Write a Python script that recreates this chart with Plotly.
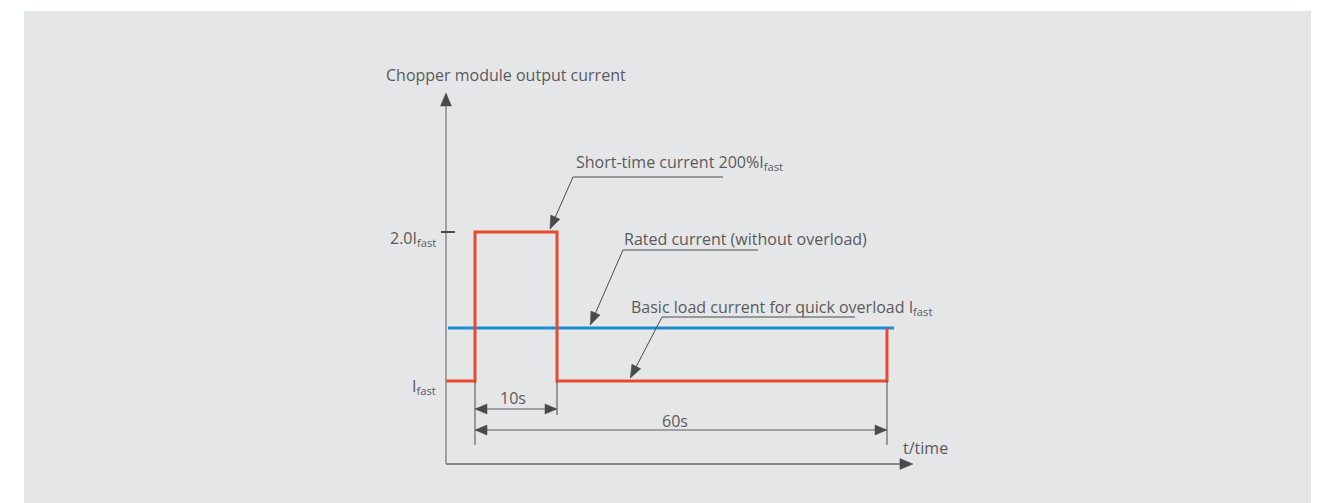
import math
import plotly.graph_objects as go

# ---------------- data (schematic: x in units of the 10 s pulse width, y in units of I_fast) ----
red_t = [-0.354, 0.0, 0.0, 1.0, 1.0, 5.024, 5.024]
red_i = [1.0, 1.0, 2.0, 2.0, 1.0, 1.0, 1.356]
blue_t = [-0.33, 5.11]
blue_i = [1.356, 1.356]
y_tick_vals = [1.0, 2.0]
y_tick_labels = ["I<sub>fast</sub>", "2.0I<sub>fast</sub>"]
dim_labels = ["10s", "60s"]
dim_start = [0.0, 0.0]
dim_end = [1.0, 5.024]
dim_level = [0.812, 0.671]
ext_bottom = [0.570, 0.772, 0.570]
ext_t = [0.0, 1.0, 5.024]
axis_origin = (-0.354, 0.443)
axis_tip = (5.341, 2.933)
y_title = "Chopper module output current"
x_title = "t/time"
callouts = [
    "Short-time current 200%I<sub>fast</sub>",
    "Rated current (without overload)",
    "Basic load current for quick overload I<sub>fast</sub>",
]
callout_targets_t = [0.915, 1.406, 1.894]
callout_targets_i = [2.0, 1.356, 1.0]

# ---------------- layout helpers ----------------
W, H = 1326, 503
X0_PX, XS = 475, 82.0     # pixel of t=0, pixels per unit
Y0_PX, YS = 530, 149.0    # pixel of i=0, pixels per unit
def px2x(px): return (px - X0_PX) / XS
def py2y(py): return (Y0_PX - py) / YS
def x2px(x): return X0_PX + x * XS
def y2py(y): return Y0_PX - y * YS

RED = "#e8492c"
BLUE = "#1a8bd4"
DARK = "#4a4a4a"
TXT = "#5a5a5a"
FONT = "Open Sans"
FS = 16

fig = go.Figure()

# grey panel
fig.add_shape(type="rect", xref="paper", yref="paper", x0=24 / W, x1=1311 / W, y0=0, y1=1 - 11 / H,
              fillcolor="#e5e6e8", line_width=0, layer="below")

def line(x0, y0, x1, y1, color, width):
    fig.add_shape(type="line", x0=x0, y0=y0, x1=x1, y1=y1, line=dict(color=color, width=width))

def head(tip_px, from_px, length=12, half=5, color=DARK):
    """filled triangular arrow head, pixel geometry converted to data coords"""
    tx, ty = tip_px
    fx, fy = from_px
    d = math.hypot(tx - fx, ty - fy)
    ux, uy = (tx - fx) / d, (ty - fy) / d
    bx, by = tx - ux * length, ty - uy * length
    px_, py_ = -uy, ux
    pts = [(tx, ty), (bx + px_ * half, by + py_ * half), (bx - px_ * half, by - py_ * half)]
    path = "M " + " L ".join(f"{px2x(a):.5f},{py2y(b):.5f}" for a, b in pts) + " Z"
    fig.add_shape(type="path", path=path, fillcolor=color, line=dict(color=color, width=0.5))

# axes
ox, oy = axis_origin
line(ox, oy, axis_tip[0] - 0.05, oy, "#666666", 1.5)
line(ox, oy, ox, axis_tip[1] - 0.03, "#888888", 1.5)
head((x2px(axis_tip[0]), y2py(oy)), (x2px(ox), y2py(oy)), length=13, half=5.5)
head((x2px(ox), y2py(axis_tip[1])), (x2px(ox), y2py(oy)), length=13, half=5.5)

# y tick mark at 2.0 I_fast
line(px2x(441), 2.0, px2x(455), 2.0, DARK, 2)

# extension lines
for t, yb in zip(ext_t, ext_bottom):
    line(t, 1.0, t, yb, DARK, 1)

# dimension lines with heads
for s, e, lv in zip(dim_start, dim_end, dim_level):
    line(s, lv, e, lv, "#888888", 1.5)
    head((x2px(s), y2py(lv)), (x2px(e), y2py(lv)), length=12, half=5)
    head((x2px(e), y2py(lv)), (x2px(s), y2py(lv)), length=12, half=5)

# data traces
fig.add_trace(go.Scatter(x=blue_t, y=blue_i, mode="lines", line=dict(color=BLUE, width=3), hoverinfo="skip"))
fig.add_trace(go.Scatter(x=red_t, y=red_i, mode="lines", line=dict(color=RED, width=3), hoverinfo="skip"))

# callouts: underline + leader + head
underlines = [(573, 723, 177), (623, 758, 250), (662, 855, 317)]
for (u0, u1, uy), tt, ti in zip(underlines, callout_targets_t, callout_targets_i):
    line(px2x(u0), py2y(uy), px2x(u1), py2y(uy), DARK, 1)
    tip = (x2px(tt), y2py(ti) - 3)
    line(px2x(u0), py2y(uy), px2x(tip[0]), py2y(tip[1]), DARK, 1)
    head(tip, (u0, uy), length=13, half=5)

# texts
ann = []
def text(t, xpx, ypx, xanchor="left", yanchor="middle"):
    ann.append(dict(x=px2x(xpx), y=py2y(ypx), xref="x", yref="y", text=t, showarrow=False,
                    xanchor=xanchor, yanchor=yanchor, font=dict(family=FONT, size=FS, color=TXT)))

text(y_title, 384, 75)
text(x_title, 901, 448)
text(callouts[0], 574, 162)
text(callouts[1], 622, 239)
text(callouts[2], 629, 307)
text(y_tick_labels[1], 438, 238, xanchor="right")
text(y_tick_labels[0], 438, 386, xanchor="right")
text(dim_labels[0], 513, 398, xanchor="center")
text(dim_labels[1], 675, 421, xanchor="center")

fig.update_layout(
    width=W, height=H, margin=dict(l=0, r=0, t=0, b=0),
    paper_bgcolor="white", plot_bgcolor="rgba(0,0,0,0)", showlegend=False,
    annotations=ann,
    xaxis=dict(range=[px2x(0), px2x(W)], visible=False, fixedrange=True),
    yaxis=dict(range=[py2y(H), py2y(0)], visible=False, fixedrange=True),
)

fig.write_html("out.html", config={"displayModeBar": False, "staticPlot": True},
               post_script="document.body.style.margin='0';")
